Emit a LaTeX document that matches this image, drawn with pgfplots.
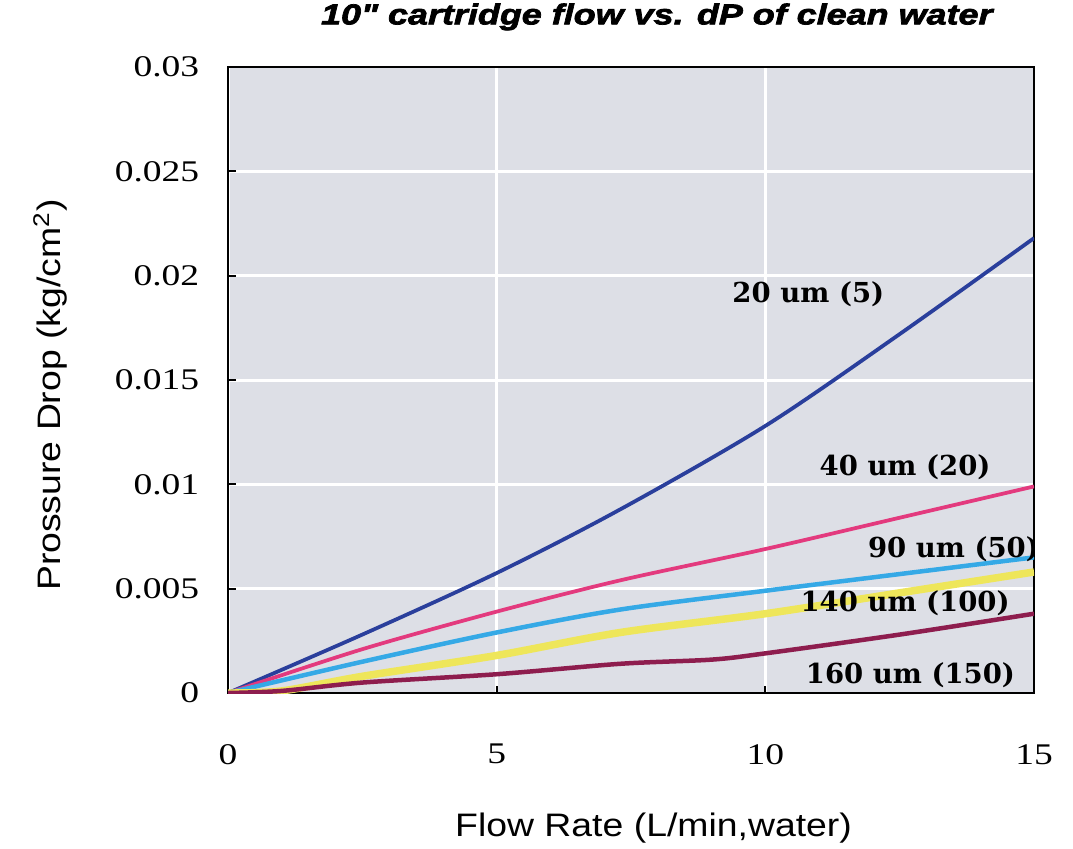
\documentclass[border=0pt]{standalone}
\usepackage{pgfplots}
\pgfplotsset{compat=1.18}
\usepackage{fontspec}
\setmainfont{Liberation Serif}
\setsansfont{Liberation Sans}
\newfontfamily\titlefont[FakeStretch=1.25,
  BoldItalicFeatures={FakeBold=2.5}]{Liberation Sans}
\newfontfamily\axisfont[FakeStretch=1.15]{Liberation Sans}
\newfontfamily\tickfont[FakeStretch=1.25]{Liberation Serif}
\newfontfamily\curvefont{DejaVu Serif}

\definecolor{bgc}{HTML}{DDDFE6}
\definecolor{c20}{HTML}{2A3F9C}
\definecolor{c40}{HTML}{E33A7E}
\definecolor{c90}{HTML}{35A9E6}
\definecolor{c140}{HTML}{EEE65A}
\definecolor{c160}{HTML}{8E1D4E}

\begin{document}
\begin{tikzpicture}
\begin{axis}[
  name=ax,
  scale only axis,
  width=322.4pt, height=250.4pt,
  xmin=0, xmax=15, ymin=0, ymax=0.03,
  scaled y ticks=false,
  xtick={0,5,10,15}, xticklabels={0,5,10,15},
  ytick={0,0.005,0.01,0.015,0.02,0.025,0.03},
  yticklabels={0,0.005,0.01,0.015,0.02,0.025,0.03},
  xtick pos=bottom, ytick pos=left,
  tick align=inside, major tick length=3pt,
  tick style={black, line width=0.8pt},
  grid=major, grid style={white, line width=1.2pt},
  axis background/.style={fill=bgc},
  axis line style={black, line width=0.8pt},
  ticklabel style={font=\tickfont\fontsize{12}{14}\selectfont},
  xticklabel style={yshift=-17pt},
  yticklabel style={xshift=-8pt},
  xlabel={Flow Rate (L/min,water)},
  ylabel={Prossure Drop (kg/cm\textsuperscript{2})},
  xlabel style={font=\axisfont\fontsize{13}{15}\selectfont,
    at={(axis description cs:0.528,-0.2157)}, anchor=center},
  ylabel style={font=\axisfont\fontsize{13}{15}\selectfont,
    at={(axis description cs:-0.2203,0.476)}, anchor=center},
  title={10" cartridge flow vs. dP of clean water},
  title style={font=\titlefont\bfseries\itshape\fontsize{11.5}{13}\selectfont,
    at={(axis description cs:0.532,1.056)}, anchor=center},
  every axis plot/.append style={smooth, tension=0.5},
]
% 20 um (5)
\addplot[c20, line width=1.5pt] coordinates {
  (0,0) (2.5,0.0028) (5,0.00575) (7.3,0.0088) (10,0.0128) (12.5,0.0172) (15,0.0218)
};
% 40 um (20)
\addplot[c40, line width=1.5pt] coordinates {
  (0,0) (2.5,0.0021) (5,0.0039) (7.3,0.0054) (10,0.0069) (12.5,0.0084) (15,0.0099)
};
% 90 um (50)
\addplot[c90, line width=1.8pt] coordinates {
  (0,0) (2.5,0.0015) (5,0.0029) (7.3,0.0040) (10,0.0049) (12.5,0.0057) (15,0.0065)
};
% 140 um (100)
\addplot[c140, line width=3pt] coordinates {
  (0,0) (1,0.0001) (2.5,0.0008) (5,0.0018) (7.3,0.0029) (10,0.0038) (12.5,0.0048) (15,0.0058)
};
% 160 um (150)
\addplot[c160, line width=1.8pt] coordinates {
  (0,0) (1,0.0001) (2.5,0.0005) (5,0.0009) (7.3,0.0014) (9,0.0016) (10,0.0019) (12.5,0.0028) (15,0.0038)
};
\node[font=\curvefont\bfseries\fontsize{11}{13}\selectfont] at (axis cs:10.8,0.0191) {20 um (5)};
\node[font=\curvefont\bfseries\fontsize{11}{13}\selectfont] at (axis cs:12.6,0.0108) {40 um (20)};
\node[font=\curvefont\bfseries\fontsize{11}{13}\selectfont] at (axis cs:13.5,0.0069) {90 um (50)};
\node[font=\curvefont\bfseries\fontsize{11}{13}\selectfont] at (axis cs:12.6,0.0043) {140 um (100)};
\node[font=\curvefont\bfseries\fontsize{11}{13}\selectfont] at (axis cs:12.7,0.00086) {160 um (150)};
\end{axis}
\pgfresetboundingbox
\path[use as bounding box] ([xshift=-91.2pt,yshift=-62pt]ax.south west)
  rectangle ([xshift=15.6pt,yshift=26.8pt]ax.north east);
\end{tikzpicture}
\end{document}
